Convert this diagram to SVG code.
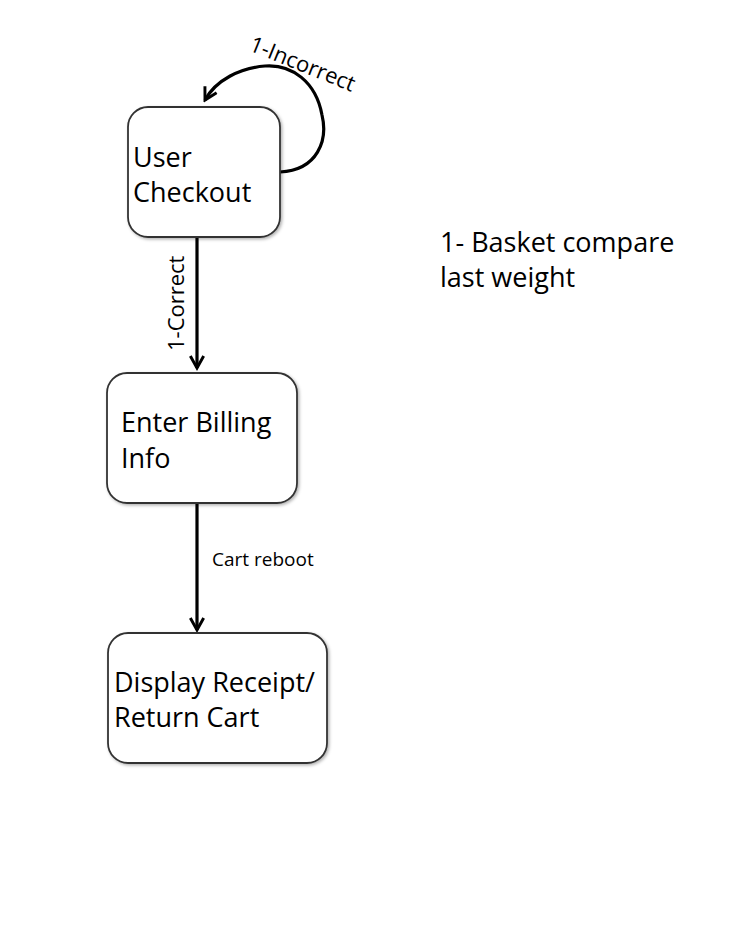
<svg xmlns="http://www.w3.org/2000/svg" width="730" height="930" viewBox="0 0 730 930">
<style>
.node{fill:#fff;stroke:#333;stroke-width:1.8}
.t{font-family:"Open Sans","Liberation Sans",sans-serif;fill:#000}
.big{font-size:27px}
.sm{font-size:22px}
.edge{fill:none;stroke:#000;stroke-width:3.2}
</style>
<defs>
<marker id="ah" viewBox="0 0 12 12" refX="10" refY="6" markerWidth="5" markerHeight="5" orient="auto" markerUnits="strokeWidth">
<path d="M1,1 L10,6 L1,11" fill="none" stroke="#000" stroke-width="2.2"/>
</marker>
<filter id="sh" x="-10%" y="-10%" width="130%" height="130%">
<feDropShadow dx="1.5" dy="1.5" stdDeviation="1.5" flood-color="#000" flood-opacity="0.3"/>
</filter>
</defs>
<rect width="730" height="930" fill="#fff"/>
<g id="connectors">
<path class="edge" d="M 280 172 C 318 170 328 140 322 115 C 316 82 292 64 265 66 C 240 68 216 80 205 100" marker-end="url(#ah)"/>
<path class="edge" d="M 197 237 L 197 368" marker-end="url(#ah)"/>
<path class="edge" d="M 197 503 L 197 630" marker-end="url(#ah)"/>
<text class="t sm" transform="translate(248,50) rotate(22)">1-Incorrect</text>
<text class="t sm" transform="translate(184,351) rotate(-90)">1-Correct</text>
<text class="t" font-size="19" x="212" y="566">Cart reboot</text>
</g>
<g id="user-checkout">
<rect class="node" x="128" y="107" width="152" height="130" rx="20" filter="url(#sh)"/>
<text class="t big" x="133" y="167">User</text>
<text class="t big" x="133" y="202">Checkout</text>
</g>
<g id="enter-billing">
<rect class="node" x="107" y="373" width="190" height="130" rx="20" filter="url(#sh)"/>
<text class="t big" x="121" y="432">Enter Billing</text>
<text class="t big" x="121" y="468">Info</text>
</g>
<g id="display-receipt">
<rect class="node" x="108" y="633" width="219" height="130" rx="20" filter="url(#sh)"/>
<text class="t big" x="114" y="692">Display Receipt/</text>
<text class="t big" x="114" y="727">Return Cart</text>
</g>
<g id="note">
<text class="t big" x="440" y="252">1- Basket compare</text>
<text class="t big" x="440" y="287">last weight</text>
</g>
</svg>
